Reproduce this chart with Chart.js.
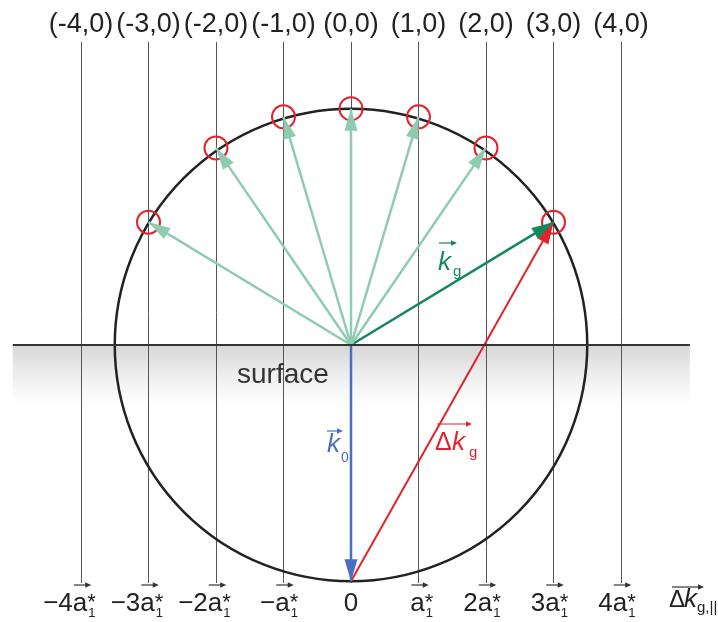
<!DOCTYPE html>
<html>
<head>
<meta charset="utf-8">
<script src="https://cdn.jsdelivr.net/npm/chart.js@4.4.1/dist/chart.umd.min.js"></script>
<style>
  html, body { margin: 0; padding: 0; background: #fff; }
</style>
</head>
<body>
<canvas id="ewald" width="718" height="622"></canvas>
<script>
// diffraction orders (rods) and their labels
const orders = [-4, -3, -2, -1, 0, 1, 2, 3, 4];
const topLabels = ["(-4,0)", "(-3,0)", "(-2,0)", "(-1,0)", "(0,0)", "(1,0)", "(2,0)", "(3,0)", "(4,0)"];
const bottomCoefs = ["−4", "−3", "−2", "−", "0", "", "2", "3", "4"];

// points where the Ewald circle cuts the rods (units of a1*)
const spotOrders = [-3, -2, -1, 0, 1, 2, 3];
const spotHeights = [1.82, 2.92, 3.38, 3.50, 3.38, 2.92, 1.82];
const ewaldRadius = 3.5;

// vectors
const k0End = [0, -3.5];
const kgEnd = [3, 1.82];
const surfaceSpan = [-5.01, 5.02];

const lightGreen = "#8fcbb1";
const darkGreen = "#13885a";
const red = "#e2232b";
const blue = "#4a6fc0";
const ink = "#222";

const fanDatasets = spotOrders
  .map((h, i) => ({ h: h, y: spotHeights[i] }))
  .filter(p => p.h !== kgEnd[0])
  .map(p => ({
    data: [{ x: 0, y: 0 }, { x: p.h, y: p.y }],
    showLine: true,
    borderColor: lightGreen,
    borderWidth: 2.5,
    pointRadius: 0,
    arrowColor: lightGreen
  }));

function arrowHead(ctx, x0, y0, x1, y1, color, len, half) {
  const a = Math.atan2(y1 - y0, x1 - x0);
  ctx.save();
  ctx.fillStyle = color;
  ctx.beginPath();
  ctx.moveTo(x1, y1);
  ctx.lineTo(x1 - len * Math.cos(a) + half * Math.sin(a), y1 - len * Math.sin(a) - half * Math.cos(a));
  ctx.lineTo(x1 - len * Math.cos(a) - half * Math.sin(a), y1 - len * Math.sin(a) + half * Math.cos(a));
  ctx.closePath();
  ctx.fill();
  ctx.restore();
}

function overArrow(ctx, x1, x2, y, color) {
  ctx.save();
  ctx.strokeStyle = color;
  ctx.lineWidth = 1.2;
  ctx.beginPath();
  ctx.moveTo(x1, y);
  ctx.lineTo(x2 - 3, y);
  ctx.stroke();
  ctx.fillStyle = color;
  ctx.beginPath();
  ctx.moveTo(x2, y);
  ctx.lineTo(x2 - 6, y - 2.8);
  ctx.lineTo(x2 - 6, y + 2.8);
  ctx.closePath();
  ctx.fill();
  ctx.restore();
}

// bottom tick label "c a*_1" with arrow over a; "a" is centred on the rod
function vecTick(ctx, cx, base, coef) {
  ctx.fillStyle = ink;
  ctx.textAlign = "left";
  ctx.textBaseline = "alphabetic";
  ctx.font = '26px "Liberation Sans"';
  if (coef === "0") {
    ctx.textAlign = "center";
    ctx.fillText("0", cx, base);
    return;
  }
  const wc = ctx.measureText(coef).width;
  const wa = ctx.measureText("a").width;
  const ax = cx - wa / 2 - 1;
  ctx.fillText(coef, ax - wc, base);
  ctx.fillText("a", ax, base);
  ctx.font = '22px "Liberation Sans"';
  ctx.fillText("*", ax + wa, base - 2);
  ctx.font = '13px "Liberation Sans"';
  ctx.fillText("1", ax + wa + 1, base + 6);
  overArrow(ctx, ax + 1, ax + wa + 4, base - 26, "#333");
}

const ewaldPlugin = {
  id: "ewald",
  beforeDraw(chart) {
    const { ctx, scales: { x, y } } = chart;
    const oy = y.getPixelForValue(0);
    const x1 = x.getPixelForValue(surfaceSpan[0]);
    const x2 = x.getPixelForValue(surfaceSpan[1]);
    const g = ctx.createLinearGradient(0, oy, 0, oy + 60);
    g.addColorStop(0, "#d6d6d6");
    g.addColorStop(0.45, "#ececec");
    g.addColorStop(1, "#ffffff");
    ctx.save();
    ctx.fillStyle = g;
    ctx.fillRect(x1, oy, x2 - x1, 60);
    ctx.restore();
  },
  beforeDatasetsDraw(chart) {
    const { ctx, scales: { x, y } } = chart;
    const ox = x.getPixelForValue(0);
    const oy = y.getPixelForValue(0);
    const r = x.getPixelForValue(ewaldRadius) - ox;
    ctx.save();
    ctx.strokeStyle = ink;
    ctx.lineWidth = 2.5;
    ctx.beginPath();
    ctx.arc(ox, oy, r, 0, Math.PI * 2);
    ctx.stroke();
    ctx.restore();
  },
  afterDatasetDraw(chart, args) {
    const ds = chart.data.datasets[args.index];
    if (!ds.arrowColor) return;
    const pts = args.meta.data;
    const p0 = pts[0], p1 = pts[1];
    arrowHead(chart.ctx, p0.x, p0.y, p1.x, p1.y, ds.arrowColor, 22, 6.5);
  },
  afterDraw(chart) {
    const { ctx, scales: { x, y } } = chart;
    const ox = x.getPixelForValue(0);
    const oy = y.getPixelForValue(0);

    // top labels
    ctx.save();
    ctx.fillStyle = ink;
    ctx.font = '27px "Liberation Sans"';
    ctx.textAlign = "center";
    ctx.textBaseline = "alphabetic";
    orders.forEach((h, i) => ctx.fillText(topLabels[i], x.getPixelForValue(h), 32));

    // bottom labels
    orders.forEach((h, i) => vecTick(ctx, x.getPixelForValue(h), 611, bottomCoefs[i]));

    // axis title  Δk_g,||
    ctx.fillStyle = ink;
    ctx.textAlign = "left";
    ctx.font = '24px "Liberation Sans"';
    ctx.fillText("Δ", 669, 607);
    ctx.font = 'italic 26px "Liberation Sans"';
    ctx.fillText("k", 684, 607);
    ctx.font = '15px "Liberation Sans"';
    ctx.fillText("g,||", 697, 612);
    overArrow(ctx, 672, 704, 587, "#333");

    // surface
    ctx.fillStyle = "#333";
    ctx.font = '28px "Liberation Sans"';
    ctx.fillText("surface", 237, 383);

    // k_g
    ctx.fillStyle = darkGreen;
    ctx.font = 'italic 26px "Liberation Sans"';
    ctx.fillText("k", ox + 87, oy - 75);
    ctx.font = '15px "Liberation Sans"';
    ctx.fillText("g", ox + 102, oy - 69);
    overArrow(ctx, ox + 88, ox + 106, oy - 102, darkGreen);

    // Δk_g
    ctx.fillStyle = red;
    ctx.font = '25px "Liberation Sans"';
    ctx.fillText("Δ", ox + 84, oy + 105);
    ctx.font = 'italic 26px "Liberation Sans"';
    ctx.fillText("k", ox + 101, oy + 105);
    ctx.font = '15px "Liberation Sans"';
    ctx.fillText("g", ox + 118, oy + 112);
    overArrow(ctx, ox + 86, ox + 121, oy + 79, red);

    // k_0
    ctx.fillStyle = blue;
    ctx.font = 'italic 26px "Liberation Sans"';
    ctx.fillText("k", ox - 24, oy + 107);
    ctx.font = '14px "Liberation Sans"';
    ctx.fillText("0", ox - 10, oy + 117);
    overArrow(ctx, ox - 24, ox - 8, oy + 86, blue);
    ctx.restore();
  }
};

new Chart(document.getElementById("ewald"), {
  type: "scatter",
  data: {
    datasets: [
      {
        data: [{ x: surfaceSpan[0], y: 0 }, { x: surfaceSpan[1], y: 0 }],
        showLine: true,
        borderColor: "#333",
        borderWidth: 2,
        pointRadius: 0
      },
      ...fanDatasets,
      {
        data: [{ x: 0, y: 0 }, { x: kgEnd[0], y: kgEnd[1] }],
        showLine: true,
        borderColor: darkGreen,
        borderWidth: 2.5,
        pointRadius: 0,
        arrowColor: darkGreen
      },
      {
        data: [{ x: 0, y: 0 }, { x: k0End[0], y: k0End[1] }],
        showLine: true,
        borderColor: blue,
        borderWidth: 2.5,
        pointRadius: 0,
        arrowColor: blue
      },
      {
        data: [{ x: k0End[0], y: k0End[1] }, { x: kgEnd[0], y: kgEnd[1] }],
        showLine: true,
        borderColor: red,
        borderWidth: 2,
        pointRadius: 0,
        arrowColor: red
      },
      {
        data: spotOrders.map((h, i) => ({ x: h, y: spotHeights[i] })),
        showLine: false,
        pointStyle: "circle",
        pointRadius: 11.5,
        pointBorderWidth: 2,
        borderColor: red,
        backgroundColor: "rgba(0,0,0,0)"
      }
    ]
  },
  options: {
    responsive: false,
    animation: false,
    layout: { padding: { top: 42, bottom: 39, left: 0, right: 0 }, autoPadding: false },
    plugins: { legend: { display: false }, tooltip: { enabled: false } },
    scales: {
      x: {
        type: "linear",
        min: -5.2,
        max: 5.437,
        afterBuildTicks: axis => { axis.ticks = orders.map(v => ({ value: v })); },
        ticks: { display: false },
        grid: { color: "#555", lineWidth: 1, drawTicks: false },
        border: { display: false }
      },
      y: {
        type: "linear",
        min: -3.526,
        max: 4.489,
        display: false
      }
    }
  },
  plugins: [ewaldPlugin]
});
</script>
</body>
</html>
